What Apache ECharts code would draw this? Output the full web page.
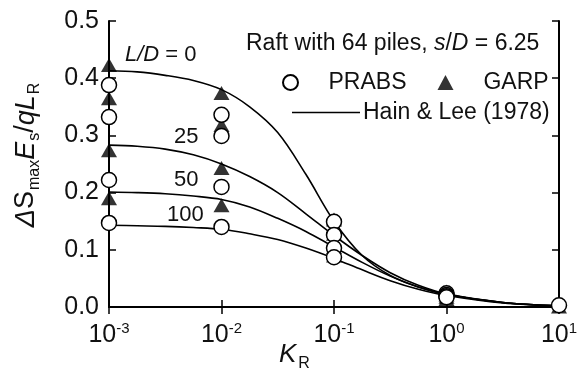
<!DOCTYPE html>
<html><head><meta charset="utf-8">
<script src="https://cdn.jsdelivr.net/npm/echarts@6/dist/echarts.min.js"></script>
<style>html,body{margin:0;padding:0;background:#fff}#c{width:584px;height:376px}</style>
</head><body><div id="c"></div>
<script>
// Hain & Lee (1978) curves, K_R sample points
const curveK = [0.001, 0.00178, 0.00316, 0.00562, 0.01, 0.0178, 0.0316, 0.0562, 0.1, 0.178, 0.316, 0.562, 1, 3.16, 10];
const curveLD0   = [0.413, 0.411, 0.405, 0.396, 0.380, 0.350, 0.305, 0.232, 0.150, 0.090, 0.055, 0.035, 0.022, 0.008, 0.002];
const curveLD25  = [0.283, 0.281, 0.276, 0.266, 0.250, 0.228, 0.200, 0.163, 0.125, 0.090, 0.060, 0.038, 0.023, 0.008, 0.002];
const curveLD50  = [0.201, 0.200, 0.198, 0.194, 0.188, 0.175, 0.155, 0.132, 0.105, 0.078, 0.054, 0.035, 0.022, 0.008, 0.002];
const curveLD100 = [0.143, 0.142, 0.141, 0.139, 0.136, 0.128, 0.118, 0.103, 0.085, 0.065, 0.046, 0.031, 0.020, 0.007, 0.002];
// PRABS (circles)
const prabsK = [0.001,0.001,0.001,0.001, 0.01,0.01,0.01,0.01, 0.1,0.1,0.1,0.1, 1,1,1,1, 10];
const prabsV = [0.388,0.332,0.222,0.147, 0.336,0.299,0.210,0.140, 0.149,0.126,0.103,0.087, 0.024,0.021,0.019,0.017, 0.003];
// GARP (triangles)
const garpK = [0.001,0.001,0.001,0.001, 0.01,0.01,0.01,0.01, 0.1,0.1,0.1,0.1, 1,1,1,1, 10];
const garpV = [0.423,0.365,0.274,0.190, 0.374,0.318,0.243,0.178, 0.153,0.128,0.105,0.090, 0.027,0.022,0.018,0.014, 0.001];
const yTicks = [0, 0.1, 0.2, 0.3, 0.4, 0.5];
const curveNames = ['L/D = 0', '25', '50', '100'];

const F = 'Liberation Sans, Arial, sans-serif';
const C = '#111';
const zip = (xs, ys) => xs.map((x, i) => [x, ys[i]]);
const chart = echarts.init(document.getElementById('c'), null, {renderer: 'canvas'});
const axisLine = {lineStyle: {color: '#000', width: 2}};
const tick = {show: true, inside: true, length: 7, lineStyle: {width: 1.5, color: '#000'}};
const lineSeries = (vals) => ({
  type: 'line', name: 'Hain & Lee (1978)', data: zip(curveK, vals), smooth: 0.35,
  symbol: 'none', lineStyle: {color: '#000', width: 1.6}, itemStyle: {color: '#000'}, z: 2, silent: true
});
chart.setOption({
  animation: false,
  backgroundColor: '#fff',
  textStyle: {fontFamily: F},
  grid: {left: 109, right: 25, top: 21, bottom: 69},
  title: {
    text: '{n|Raft with 64 piles, }{i|s}{n|/}{i|D}{n| = 6.25}',
    left: 241, top: 27,
    textStyle: {fontWeight: 'normal', rich: {n: {fontSize: 23, fontFamily: F, color: C}, i: {fontSize: 23, fontFamily: F, fontStyle: 'italic', color: C}}}
  },
  legend: [
    {data: [{name: 'PRABS', icon: 'circle'}, {name: 'GARP', icon: 'triangle'}], left: 277, top: 66, itemGap: 31,
     itemWidth: 16, itemHeight: 15, textStyle: {fontSize: 23, fontFamily: F, color: C, padding: [0, 0, 0, 25]}, selectedMode: false},
    {data: [{name: 'Hain & Lee (1978)', icon: 'rect'}], left: 287, top: 96, itemWidth: 68, itemHeight: 1.6,
     textStyle: {fontSize: 23, fontFamily: F, color: C, padding: [0, 0, 0, -2]}, selectedMode: false}
  ],
  xAxis: [
    {type: 'log', logBase: 10, min: 0.001, max: 10, position: 'bottom',
     axisLine: axisLine, axisTick: tick, splitLine: {show: false}, minorTick: {show: false},
     axisLabel: {margin: 6, formatter: v => '{b|10}{s|' + Math.round(Math.log10(v)) + '}',
       rich: {b: {fontSize: 25, fontFamily: F, color: C, padding: [10, 0, 0, 0]}, s: {fontSize: 15, fontFamily: F, color: C, padding: [0, 0, 4, 0]}}}},
    {type: 'log', logBase: 10, min: 0.001, max: 10, position: 'top',
     axisLine: axisLine, axisTick: tick, axisLabel: {show: false}, splitLine: {show: false}}
  ],
  yAxis: [
    {type: 'value', min: 0, max: 0.5, interval: 0.1, position: 'left',
     axisLine: {show: true, lineStyle: {color: '#000', width: 2}}, axisTick: tick, splitLine: {show: false},
     axisLabel: {fontSize: 25, color: C, fontFamily: F, margin: 10, formatter: v => yTicks.includes(+v.toFixed(1)) ? v.toFixed(1) : ''},
     name: '{d|\u0394}{n|S}{s|max}{i|E}{s|s}{n|/}{i|qL}{s|R}', nameLocation: 'middle', nameGap: 66, nameRotate: 90,
     nameTextStyle: {padding: [0, 0, 0, 18], rich: {
       d: {fontSize: 27, fontStyle: 'italic', fontFamily: F, color: C},
       i: {fontSize: 27, fontStyle: 'italic', fontFamily: F, color: C},
       n: {fontSize: 27, fontFamily: F, color: C},
       s: {fontSize: 16, fontFamily: F, color: C, padding: [18, 0, 0, 1]}}}},
    {type: 'value', min: 0, max: 0.5, interval: 0.1, position: 'right',
     axisLine: {show: true, lineStyle: {color: '#000', width: 2}}, axisTick: tick,
     axisLabel: {show: false}, splitLine: {show: false}}
  ],
  series: [
    lineSeries(curveLD0), lineSeries(curveLD25), lineSeries(curveLD50), lineSeries(curveLD100),
    {type: 'scatter', name: 'GARP', data: zip(garpK, garpV), symbol: 'triangle', symbolSize: [16, 14],
     itemStyle: {color: '#000'}, z: 3, silent: true},
    {type: 'scatter', name: 'PRABS', data: zip(prabsK, prabsV), symbol: 'circle', symbolSize: 15,
     itemStyle: {color: '#fff', borderColor: '#000', borderWidth: 1.5, opacity: 1}, z: 4, silent: true}
  ],
  graphic: [
    {type: 'text', left: 279, top: 342, style: {text: '{i|K}{s|R}', rich: {i: {fontSize: 26, fontStyle: 'italic', fontFamily: F, fill: C}, s: {fontSize: 16, fontFamily: F, fill: C, padding: [18, 0, 0, 2]}}}},
    {type: 'text', left: 125, top: 44, style: {text: '{i|L/D}{n| = 0}', rich: {i: {fontSize: 22, fontStyle: 'italic', fontFamily: F, fill: C}, n: {fontSize: 22, fontFamily: F, fill: C}}}},
    {type: 'text', left: 174, top: 126, style: {text: curveNames[1], fontSize: 22, fontFamily: F, fill: C}},
    {type: 'text', left: 174, top: 169, style: {text: curveNames[2], fontSize: 22, fontFamily: F, fill: C}},
    {type: 'text', left: 167, top: 204, style: {text: curveNames[3], fontSize: 22, fontFamily: F, fill: C}}
  ]
});
</script></body></html>
